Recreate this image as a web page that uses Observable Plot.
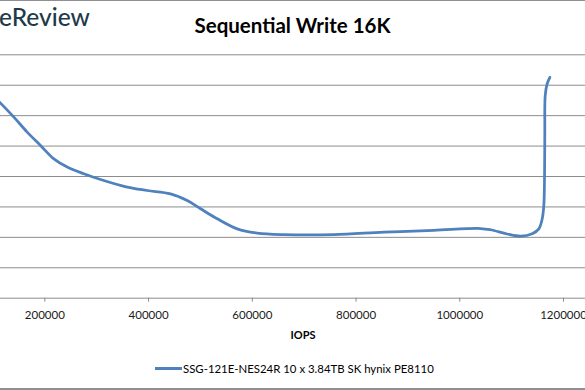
<!DOCTYPE html>
<html>
<head>
<meta charset="utf-8">
<script src="https://cdn.jsdelivr.net/npm/d3@7"></script>
<script src="https://cdn.jsdelivr.net/npm/@observablehq/plot@0.6"></script>
<style>
  body { margin: 0; background: #fff; }
  #wrap { position: relative; width: 585px; height: 390px; overflow: hidden; background: #fff; font-family: Lato, "Open Sans", sans-serif; }
  #logo { position: absolute; left: -1px; top: 3px; font-size: 24.5px; line-height: 28px; color: #1e3a4b; white-space: nowrap; font-weight: 500; }
  #title { position: absolute; left: 0; top: 14px; width: 585px; text-align: center; font-size: 20.5px; line-height: 22px; font-weight: bold; color: #000; }
  #plot { position: absolute; left: -100px; top: 0; width: 735px; }
  #plot svg { max-width: none !important; }
  #xlabel { position: absolute; left: 253px; top: 328px; width: 100px; text-align: center; font-size: 11px; line-height: 14px; font-weight: bold; color: #000; }
  #legend { position: absolute; left: 155px; top: 361px; height: 14px; display: flex; align-items: center; white-space: nowrap; font-size: 11.4px; color: #000; }
  #legend .swatch { width: 27px; height: 3px; margin-right: 1px; }
  .border { position: absolute; left: 0; width: 585px; background: #909090; }
</style>
</head>
<body>
<div id="wrap">
  <div class="border" style="top:0;height:1px"></div>
  <div id="logo">eReview</div>
  <div id="title"></div>
  <div id="plot"></div>
  <div id="xlabel"></div>
  <div id="legend"><div class="swatch"></div><span></span></div>
  <div class="border" style="top:388px;height:2px"></div>
</div>
<script>
const chartTitle = "Sequential Write 16K";
const xLabel = "IOPS";
const seriesName = "SSG-121E-NES24R  10 x 3.84TB SK hynix PE8110";
const seriesColor = "#4f81bd";

const iops = [100000, 114600, 140300, 166000, 191700, 217400, 243200, 275200, 307400, 358900, 397400, 442400, 474500, 500200, 532400, 570900, 609500, 660800, 757200, 853600, 950000, 1040000, 1059200, 1091400, 1117100, 1139600, 1152400, 1158900, 1162000, 1163400, 1163900, 1164700, 1168500, 1173600];
const latency = [0.665, 0.641, 0.595, 0.546, 0.502, 0.458, 0.431, 0.409, 0.390, 0.365, 0.354, 0.343, 0.321, 0.294, 0.261, 0.228, 0.214, 0.209, 0.209, 0.217, 0.223, 0.229, 0.225, 0.211, 0.204, 0.212, 0.228, 0.261, 0.305, 0.404, 0.546, 0.666, 0.705, 0.726];

const xTicks = [200000, 400000, 600000, 800000, 1000000, 1200000];
const yGrid = [0.1, 0.2, 0.3, 0.4, 0.5, 0.6, 0.7, 0.8];

const data = iops.map((x, i) => ({iops: x, latency: latency[i]}));

document.getElementById("title").textContent = chartTitle;
document.getElementById("xlabel").textContent = xLabel;
document.querySelector("#legend span").textContent = seriesName;
document.querySelector("#legend .swatch").style.background = seriesColor;

const chart = Plot.plot({
  width: 735,
  height: 345,
  marginLeft: 40.6,
  marginRight: 20.1,
  marginTop: 40,
  marginBottom: 47.3,
  x: {domain: [0, 1300000], range: [40.6, 714.9]},
  y: {domain: [0, 0.8], range: [297.7, 54.3], axis: null},
  style: {fontFamily: "Lato, 'Open Sans', sans-serif", fontSize: "11.5px", color: "#1a1a1a", background: "transparent"},
  marks: [
    Plot.gridY(yGrid, {stroke: "#8c8c8c", strokeOpacity: 1}),
    Plot.ruleY([0], {stroke: "#8c8c8c"}),
    Plot.axisX(xTicks, {tickSize: 4, tickPadding: 9, stroke: "#8c8c8c", label: null, tickFormat: d => String(d)}),
    Plot.line(data, {x: "iops", y: "latency", curve: "catmull-rom", stroke: seriesColor, strokeWidth: 2.75})
  ]
});
document.getElementById("plot").appendChild(chart);
</script>
</body>
</html>
